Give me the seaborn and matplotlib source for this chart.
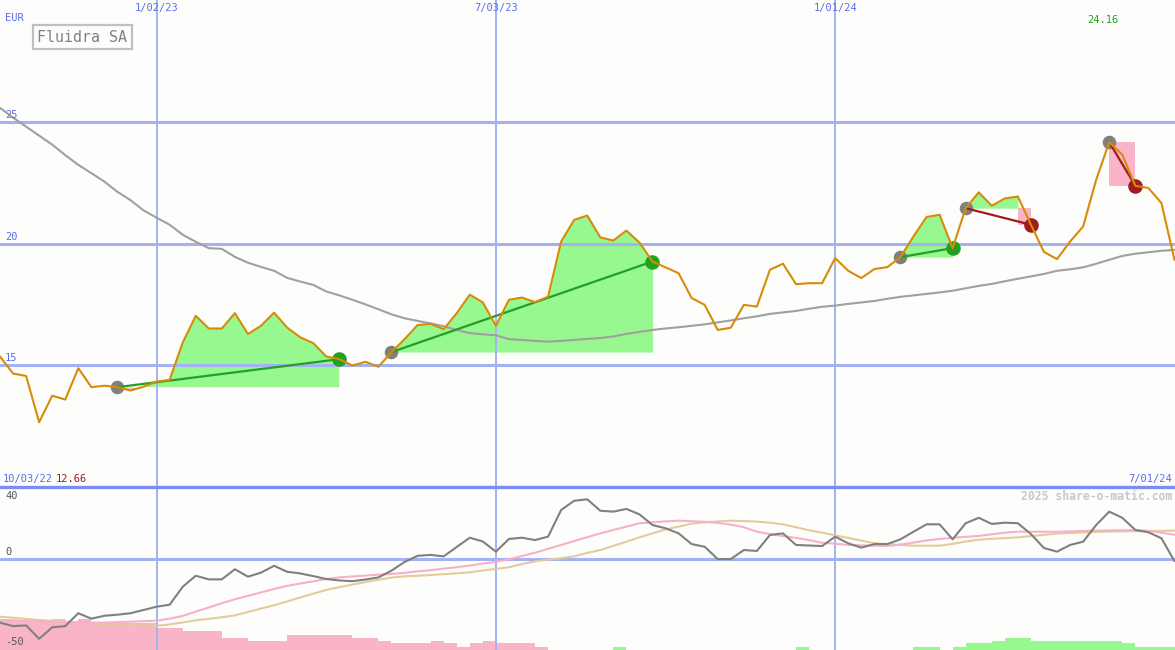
import numpy as np
import pandas as pd
import matplotlib
matplotlib.use("Agg")
import matplotlib.pyplot as plt
import seaborn as sns

# ---------------- data ----------------
start_date = "2022-10-10"
title = "Fluidra SA"
currency = "EUR"
range_labels = ["10/03/22", "7/01/24"]
date_ticks = ["2023-01-02", "2023-07-03", "2024-01-01"]
date_tick_labels = ["1/02/23", "7/03/23", "1/01/24"]
price_ticks = [15, 20, 25]
osc_labels = [40, 0, -50]
watermark = "2025 share-o-matic.com"

price = [15.36, 14.66, 14.56, 12.66, 13.75, 13.59, 14.88, 14.10, 14.16, 14.10,
         13.96, 14.12, 14.33, 14.40, 15.93, 17.03, 16.51, 16.51, 17.14, 16.28,
         16.62, 17.16, 16.55, 16.15, 15.91, 15.36, 15.25, 14.99, 15.14, 14.94,
         15.54, 16.07, 16.65, 16.70, 16.48, 17.14, 17.90, 17.58, 16.62, 17.69,
         17.78, 17.59, 17.82, 20.08, 20.97, 21.15, 20.25, 20.12, 20.53, 20.04,
         19.26, 19.02, 18.78, 17.76, 17.48, 16.45, 16.54, 17.48, 17.41, 18.92,
         19.17, 18.33, 18.37, 18.37, 19.40, 18.88, 18.58, 18.95, 19.03, 19.44,
         20.29, 21.09, 21.18, 19.81, 21.45, 22.10, 21.55, 21.85, 21.93, 20.77,
         19.65, 19.36, 20.08, 20.70, 22.62, 24.16, 23.65, 22.37, 22.28, 21.66,
         19.33]

ma_long = [25.57, 25.17, 24.80, 24.43, 24.06, 23.63, 23.23, 22.89, 22.54, 22.12,
           21.78, 21.36, 21.06, 20.77, 20.36, 20.07, 19.81, 19.78, 19.45, 19.21,
           19.04, 18.88, 18.59, 18.44, 18.30, 18.03, 17.87, 17.69, 17.50, 17.30,
           17.09, 16.93, 16.82, 16.72, 16.60, 16.45, 16.32, 16.27, 16.23, 16.07,
           16.04, 16.00, 15.97, 16.00, 16.04, 16.08, 16.12, 16.18, 16.29, 16.37,
           16.45, 16.51, 16.56, 16.62, 16.68, 16.76, 16.84, 16.93, 17.01, 17.11,
           17.17, 17.23, 17.32, 17.40, 17.45, 17.52, 17.58, 17.64, 17.73, 17.81,
           17.87, 17.93, 17.99, 18.06, 18.16, 18.26, 18.34, 18.45, 18.55, 18.65,
           18.75, 18.88, 18.94, 19.02, 19.17, 19.33, 19.49, 19.58, 19.64, 19.70,
           19.74]

osc = [-34.9, -36.8, -36.4, -43.8, -37.5, -36.8, -29.7, -32.7, -31.1, -30.5,
       -29.7, -27.9, -26.1, -25.0, -15.1, -9.0, -11.0, -11.0, -5.4, -9.5,
       -7.3, -3.5, -6.8, -7.7, -9.2, -10.8, -11.6, -12.0, -11.1, -9.9,
       -6.2, -1.4, 2.0, 2.5, 1.7, 6.9, 12.0, 9.9, 4.3, 11.3,
       12.0, 10.7, 12.6, 27.3, 32.4, 33.2, 26.9, 26.4, 27.9, 24.9,
       19.0, 17.2, 14.4, 8.5, 7.0, 0.2, 0.2, 5.2, 4.7, 13.5,
       14.4, 8.0, 7.7, 7.4, 12.6, 8.9, 6.5, 8.5, 8.5, 11.1,
       15.3, 19.4, 19.4, 11.1, 20.0, 23.0, 19.6, 20.3, 20.0, 14.0,
       6.3, 4.3, 8.0, 9.8, 19.0, 26.4, 23.0, 16.3, 15.0, 11.7,
       -0.9]

osc_fast = [-33.4, -33.6, -33.9, -34.1, -34.4, -34.5, -34.7, -34.8, -34.9, -34.6,
            -34.4, -34.1, -33.8, -32.7, -31.2, -28.8, -26.5, -24.2, -22.0, -20.1,
            -18.2, -16.3, -14.6, -13.3, -12.1, -10.8, -9.9, -9.4, -8.9, -8.4,
            -8.0, -7.4, -6.6, -5.9, -5.1, -4.3, -3.4, -2.3, -1.3, 0.1,
            1.9, 3.7, 5.9, 8.0, 10.2, 12.3, 14.4, 16.3, 18.1, 20.0,
            20.5, 21.0, 21.4, 21.1, 20.8, 20.2, 19.2, 17.8, 15.3, 14.0,
            12.9, 11.9, 10.7, 9.2, 8.7, 8.0, 7.8, 7.6, 7.4, 8.2,
            9.3, 10.5, 11.3, 11.9, 12.5, 13.0, 13.9, 14.8, 15.3, 15.3,
            15.3, 15.3, 15.5, 15.7, 15.9, 16.0, 16.1, 16.3, 15.7, 14.8,
            13.6]

osc_slow = [-31.6, -32.2, -32.8, -33.4, -33.9, -34.4, -34.9, -35.3, -35.7, -35.9,
            -36.2, -36.4, -36.6, -35.9, -34.8, -33.6, -32.8, -31.9, -30.9, -29.0,
            -27.1, -25.3, -23.2, -21.0, -18.9, -16.8, -15.3, -13.9, -12.5, -11.2,
            -10.0, -9.3, -9.0, -8.6, -8.1, -7.7, -7.1, -6.1, -5.2, -4.3,
            -2.5, -1.1, -0.1, 0.7, 1.7, 3.6, 5.2, 7.5, 9.8, 12.2,
            14.4, 16.6, 18.1, 19.8, 20.5, 21.0, 21.4, 21.2, 20.9, 20.3,
            19.4, 17.8, 16.1, 14.8, 13.3, 11.9, 10.4, 9.0, 8.4, 8.0,
            7.6, 7.6, 7.6, 8.6, 9.9, 10.9, 11.4, 11.8, 12.2, 12.9,
            13.6, 14.3, 14.6, 14.9, 15.2, 15.4, 15.5, 15.6, 15.7, 15.8,
            15.9]

hist = ([-16.6] * 4 + [-17.3, -15.6, -17.3] + [-15.1] * 5 + [-12.3] * 2 +
        [-10.5] * 3 + [-6.8] * 2 + [-5.0] * 3 + [-8.3] * 5 + [-6.5] * 2 +
        [-5.0] + [-3.7] * 3 + [-5.0, -3.7, -1.8, -3.7, -5.0] + [-3.7] * 3 +
        [-1.8] + [0.0] * 5 + [1.8] + [0.0] * 13 + [1.8] + [0.0] * 8 +
        [1.8] * 2 + [0.0] + [1.8] + [3.7] * 2 + [5.0] + [6.8] * 2 +
        [5.0] * 7 + [3.7] + [1.8] * 4)

entries = [9, 30, 69, 74, 85]
exits = [26, 50, 73, 79, 87]

# ---------------- styling ----------------
sns.set_style("white")
plt.rcParams["font.family"] = ["DejaVu Sans Mono", "DejaVu Sans"]

BG = "#fdfefb"
GRID = "#a4b2f4"
SEP = "#7c8cf0"
LBL = "#5a6cf0"
ORANGE = "#d68c08"
GREEN_FILL = "#98f890"
PINK_FILL = "#f9b4c8"
GREEN = "#22a022"
DARKRED = "#a01c1c"

n = len(price)
dates = pd.date_range(start_date, periods=n, freq="7D")
df = pd.DataFrame({"k": np.arange(n), "price": price, "ma": ma_long,
                   "osc": osc, "fast": osc_fast, "slow": osc_slow, "hist": hist})
tick_pos = [dates.get_loc(pd.Timestamp(d)) for d in date_ticks]
P = np.array(price)
K = np.arange(n)

fig = plt.figure(figsize=(11.75, 6.5), dpi=100, facecolor=BG)
ax = fig.add_axes([0, 163 / 650, 1, 487 / 650], facecolor=BG)
ax2 = fig.add_axes([0, 0, 1, 163 / 650], facecolor=BG)

xmax = n - 1 + 0.04
for a in (ax, ax2):
    a.set_xlim(0, xmax)
    for s in a.spines.values():
        s.set_visible(False)
    a.set_xticks([])
    a.set_yticks([])
ax.set_ylim(10, 30)
ax2.set_ylim(-50, 40)

# ---- main panel ----
for e, x in zip(entries, exits):
    ep = P[e]
    seg = K[e:x + 1]
    if P[x] >= ep:
        ax.fill_between(seg, P[seg], ep, where=P[seg] >= ep, interpolate=True,
                        color=GREEN_FILL, lw=0, zorder=1)
        ax.fill_between(seg, P[seg], ep, where=P[seg] < ep, interpolate=True,
                        color=PINK_FILL, lw=0, zorder=1)
    else:
        j = seg[P[seg] >= ep].max()
        if j > e:
            s2 = K[e:j + 1]
            ax.fill_between(s2, P[s2], ep, color=GREEN_FILL, lw=0, zorder=1)
        s3 = K[j:x + 1]
        ax.fill_between(s3, ep, P[x], color=PINK_FILL, lw=0, zorder=1)

for v in price_ticks:
    ax.axhline(v, color=GRID, lw=2.2, zorder=2)
for t in tick_pos:
    ax.axvline(t, color=GRID, lw=1.4, zorder=2)
    ax2.axvline(t, color=GRID, lw=1.4, zorder=2)

sns.lineplot(data=df, x="k", y="ma", ax=ax, color="#a0a0a0", lw=1.5, zorder=3)

ax.scatter(K[entries], P[entries], s=95, color="#808080", zorder=4, lw=0)
for e, x in zip(entries, exits):
    c = GREEN if P[x] >= P[e] else DARKRED
    ax.scatter([x], [P[x]], s=110, color=c, zorder=4, lw=0)
    ax.plot([e, x], [P[e], P[x]], color=c, lw=1.6, zorder=4,
            solid_capstyle="butt")

sns.lineplot(data=df, x="k", y="price", ax=ax, color=ORANGE, lw=1.5, zorder=5)
ax.set_xlabel("")
ax.set_ylabel("")
ax.set_xlim(0, xmax)
ax.set_ylim(10, 30)

fs = 7.5
for v in price_ticks:
    ax.annotate(str(v), xy=(0, v), xycoords=("axes fraction", "data"),
                xytext=(5, 2), textcoords="offset pixels", ha="left",
                va="bottom", color=LBL, fontsize=fs)
for t, lab in zip(tick_pos, date_tick_labels):
    ax.annotate(lab, xy=(t, 1), xycoords=("data", "axes fraction"),
                xytext=(0, -8), textcoords="offset pixels", ha="center",
                va="center", color=LBL, fontsize=fs)
ax.annotate(currency, xy=(0, 1), xycoords="axes fraction", xytext=(5, -18),
            textcoords="offset pixels", ha="left", va="center", color=LBL,
            fontsize=fs)
ax.annotate(title, xy=(0, 1), xycoords="axes fraction", xytext=(37, -37),
            textcoords="offset pixels", ha="left", va="center",
            color="#808080", fontsize=10.8,
            bbox=dict(boxstyle="square,pad=0.3", fc=BG, ec="#c0c0c0", lw=1.6))
ax.annotate(range_labels[0], xy=(0, 0), xycoords="axes fraction",
            xytext=(3, 8), textcoords="offset pixels", ha="left", va="center",
            color=LBL, fontsize=fs)
lo = int(np.argmin(P))
ax.annotate(f"{P[lo]:.2f}", xy=(0, 0), xycoords="axes fraction",
            xytext=(56, 8), textcoords="offset pixels", ha="left", va="center",
            color=DARKRED, fontsize=fs)
ax.annotate(range_labels[1], xy=(1, 0), xycoords="axes fraction",
            xytext=(-3, 8), textcoords="offset pixels", ha="right",
            va="center", color=LBL, fontsize=fs)
hi = int(np.argmax(P))
ax.annotate(f"{P[hi]:.2f}", xy=(hi, 1), xycoords=("data", "axes fraction"),
            xytext=(-6, -20), textcoords="offset pixels", ha="center",
            va="center", color=GREEN, fontsize=fs)

# ---- oscillator panel ----
H = np.array(hist)
bar_colors = [GREEN_FILL if h > 0 else PINK_FILL for h in H]
ax2.bar(K, np.abs(H), bottom=-50, width=1.0, align="edge", color=bar_colors,
        lw=0, zorder=1)
ax2.axhline(0, color=GRID, lw=2.2, zorder=2)
sns.lineplot(data=df, x="k", y="slow", ax=ax2, color="#e2cc9c", lw=1.5, zorder=3)
sns.lineplot(data=df, x="k", y="fast", ax=ax2, color="#f8b0c8", lw=1.5, zorder=3)
sns.lineplot(data=df, x="k", y="osc", ax=ax2, color="#808080", lw=1.5, zorder=4)
ax2.set_xlim(0, xmax)
ax2.set_ylim(-50, 40)
ax2.set_xlabel("")
ax2.set_ylabel("")
# separator between panels (drawn on lower axes so it is not covered)
ax2.axhline(40, color=SEP, lw=2.4, zorder=6, clip_on=False)

ax2.annotate(str(osc_labels[0]), xy=(0, 1), xycoords="axes fraction",
             xytext=(5, -9), textcoords="offset pixels", ha="left",
             va="center", color="#555555", fontsize=fs)
ax2.annotate(str(osc_labels[1]), xy=(0, 0), xycoords=("axes fraction", "data"),
             xytext=(5, 2), textcoords="offset pixels", ha="left",
             va="bottom", color="#555555", fontsize=fs)
ax2.annotate(str(osc_labels[2]), xy=(0, 0), xycoords="axes fraction",
             xytext=(5, 8), textcoords="offset pixels", ha="left",
             va="center", color="#555555", fontsize=fs)
ax2.annotate(watermark, xy=(1, 1), xycoords="axes fraction", xytext=(-3, -9),
             textcoords="offset pixels", ha="right", va="center",
             color="#c8c8c8", fontsize=8.3, fontweight="bold")

fig.savefig("out.png", dpi=100, facecolor=BG)
